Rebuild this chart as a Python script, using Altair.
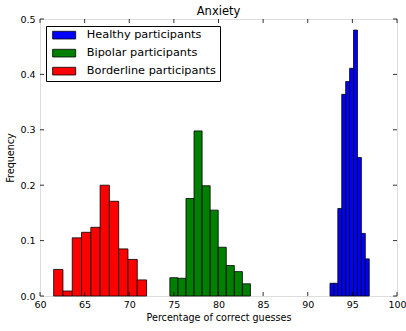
import altair as alt
import pandas as pd

# Groups, in legend order, with their fill colours
groups = ["Healthy participants", "Bipolar participants", "Borderline participants"]
colors = ["#0000ff", "#008000", "#ff0000"]

# Normalised histograms: first bin edge, bin width and density of each bin
healthy_start = 92.49
healthy_width = 0.44
healthy_density = [0.023, 0.023, 0.158, 0.364, 0.387, 0.411, 0.480, 0.250, 0.113, 0.067]

bipolar_start = 74.55
bipolar_width = 0.903
bipolar_density = [0.033, 0.032, 0.176, 0.298, 0.199, 0.155, 0.088, 0.055, 0.044, 0.022]

borderline_start = 61.53
borderline_width = 1.041
borderline_density = [0.048, 0.009, 0.105, 0.115, 0.124, 0.200, 0.171, 0.085, 0.066, 0.029]

x_ticks = [60, 65, 70, 75, 80, 85, 90, 95, 100]
y_ticks = [0.0, 0.1, 0.2, 0.3, 0.4, 0.5]

W, H = 357, 277
TICK = 4
FONT = "DejaVu Sans"


def hist_rows(name, start, width, density):
    rows = []
    for i, d in enumerate(density):
        lo = start + i * width
        rows.append({"group": name, "lo": lo, "hi": lo + width, "density": d})
    return rows


bars = pd.DataFrame(
    hist_rows(groups[0], healthy_start, healthy_width, healthy_density)
    + hist_rows(groups[1], bipolar_start, bipolar_width, bipolar_density)
    + hist_rows(groups[2], borderline_start, borderline_width, borderline_density)
)

x_scale = alt.Scale(domain=[60, 100], nice=False, zero=False, padding=0)
y_scale = alt.Scale(domain=[0, 0.5], nice=False, padding=0)

# wide, flat legend swatch
swatch = "M-3,-1H3V1H-3Z"

axis_text = dict(labelFont=FONT, labelFontSize=9.5, labelColor="black", labelFlush=False,
                 titleFont=FONT, titleFontSize=9.6, titleColor="black",
                 titleFontWeight="normal", ticks=False, domain=False, grid=False)

hist = alt.Chart(bars).mark_bar(stroke="black", strokeWidth=0.8, opacity=1).encode(
    x=alt.X(
        "lo:Q",
        scale=x_scale,
        title="Percentage of correct guesses",
        axis=alt.Axis(values=x_ticks, format="d", labelPadding=3, titlePadding=4, **axis_text),
    ),
    x2="hi:Q",
    y=alt.Y(
        "density:Q",
        scale=y_scale,
        title="Frequency",
        axis=alt.Axis(values=y_ticks, format=".1f", labelPadding=5, titlePadding=4, **axis_text),
    ),
    y2=alt.datum(0),
    color=alt.Color(
        "group:N",
        scale=alt.Scale(domain=groups, range=colors),
        legend=alt.Legend(
            title=None,
            orient="none",
            legendX=6,
            legendY=7,
            symbolType=swatch,
            symbolSize=59,
            symbolOffset=9,
            symbolStrokeColor="black",
            symbolStrokeWidth=0.8,
            symbolOpacity=1,
            labelFontSize=11.3,
            labelFont=FONT,
            labelColor="black",
            labelOffset=17,
            rowPadding=5,
            padding=3.5,
            offset=0,
            fillColor="white",
            strokeColor="black",
            cornerRadius=0,
        ),
    ),
)

xt = pd.DataFrame({"v": x_ticks})
yt = pd.DataFrame({"v": y_ticks})

tick_style = dict(color="black", strokeWidth=0.8)

bottom_ticks = alt.Chart(xt).mark_rule(**tick_style).encode(
    x=alt.X("v:Q", scale=x_scale), y=alt.value(H), y2=alt.value(H - TICK)
)
top_ticks = alt.Chart(xt).mark_rule(**tick_style).encode(
    x=alt.X("v:Q", scale=x_scale), y=alt.value(0), y2=alt.value(TICK)
)
left_ticks = alt.Chart(yt).mark_rule(**tick_style).encode(
    y=alt.Y("v:Q", scale=y_scale), x=alt.value(0), x2=alt.value(TICK)
)
right_ticks = alt.Chart(yt).mark_rule(**tick_style).encode(
    y=alt.Y("v:Q", scale=y_scale), x=alt.value(W), x2=alt.value(W - TICK)
)

chart = (
    alt.layer(hist, bottom_ticks, top_ticks, left_ticks, right_ticks)
    .properties(
        width=W,
        height=H,
        title=alt.TitleParams("Anxiety", fontSize=11.5, font=FONT, fontWeight="normal",
                              color="black", offset=2, dy=5),
        autosize=alt.AutoSizeParams(type="none"),
        padding={"left": 40, "top": 19, "right": 9, "bottom": 35},
    )
    .configure_view(stroke="black", strokeWidth=1)
    .configure(background="white")
)

chart.save("out.html", embed_options={"renderer": "svg", "actions": False})
